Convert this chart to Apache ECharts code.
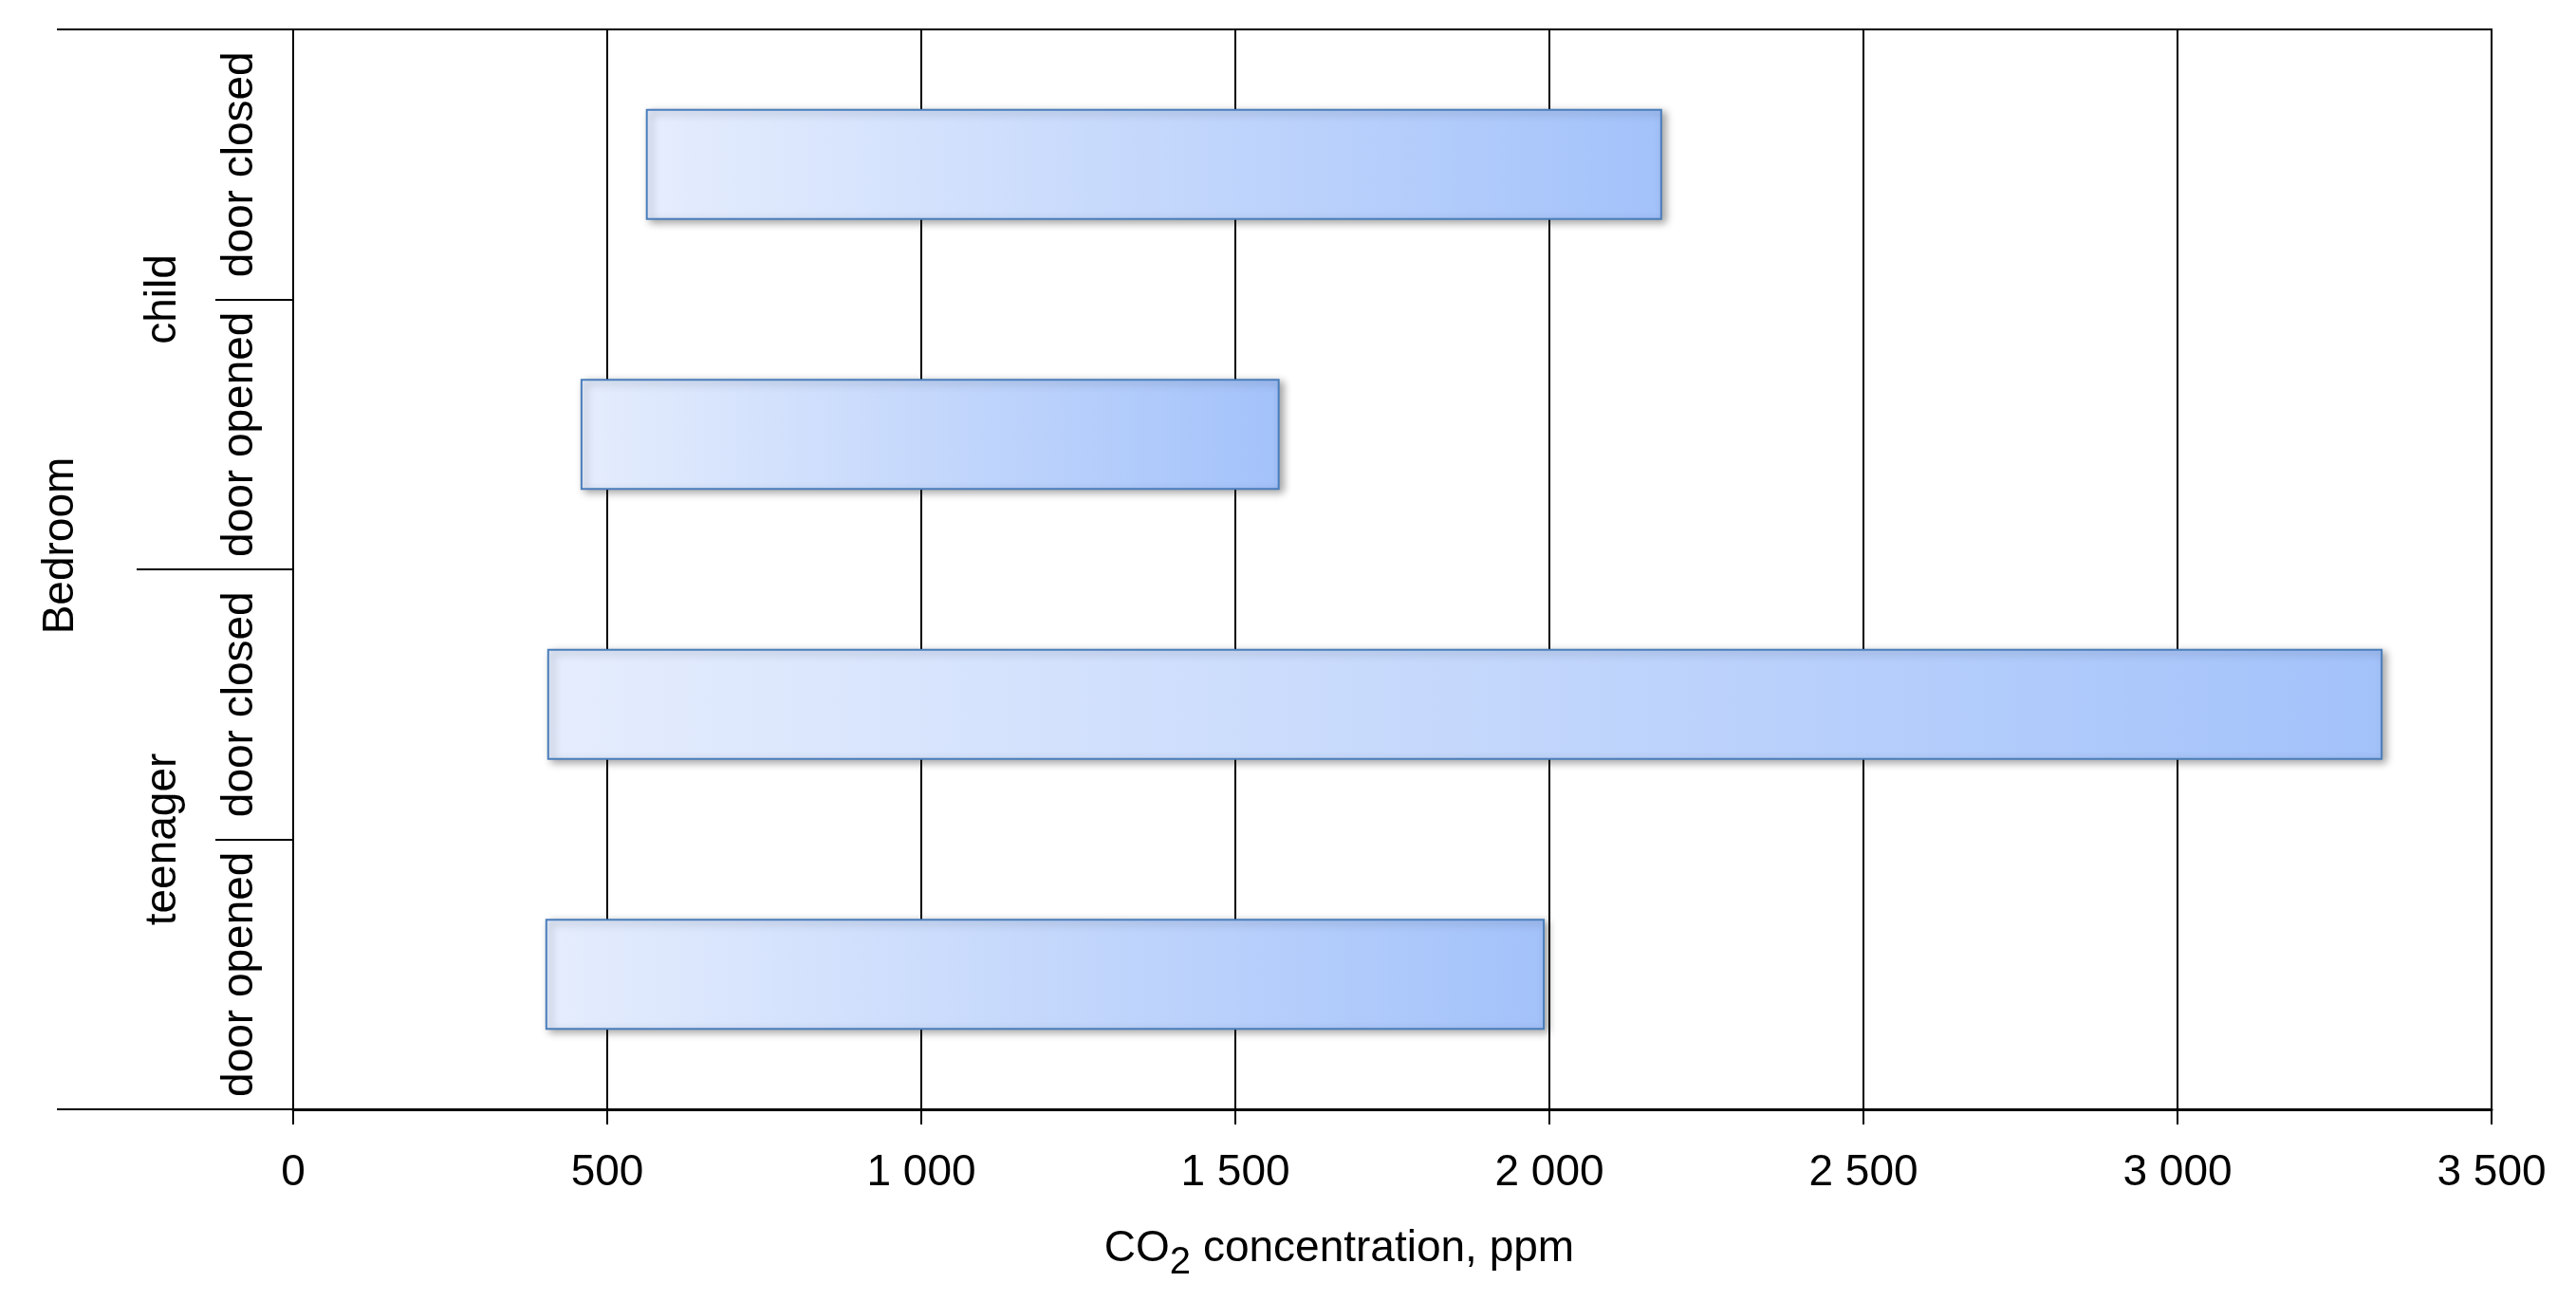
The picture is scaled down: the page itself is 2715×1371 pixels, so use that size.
<!DOCTYPE html>
<html>
<head>
<meta charset="utf-8">
<script src="https://cdn.jsdelivr.net/npm/echarts@6/dist/echarts.min.js"></script>
<style>
html,body{margin:0;padding:0;background:#fff;}
#chart{width:2715px;height:1371px;}
</style>
</head>
<body>
<div id="chart"></div>
<script>
// ---- data ----
const groups = ['teenager', 'child'];
const subCategories = ['door opened', 'door closed', 'door opened', 'door closed'];
const categoryGroup = ['teenager', 'teenager', 'child', 'child'];
const startValues = [403, 406, 459, 563];
const endValues = [1991, 3325, 1569, 2178];
const xTickValues = [0, 500, 1000, 1500, 2000, 2500, 3000, 3500];
const xTickLabels = ['0', '500', '1 000', '1 500', '2 000', '2 500', '3 000', '3 500'];
const outerLabel = ['Bedroom'];

const FONT = "'Liberation Sans', Arial, sans-serif";
const FS = 46;
const categoryKeys = subCategories.map((s, i) => categoryGroup[i] + '|' + s);
const seriesData = categoryKeys.map((k, i) => [k, startValues[i], endValues[i]]);

const chart = echarts.init(document.getElementById('chart'), null, {renderer: 'canvas'});
const lineStyle = {color: '#000', width: 2};

chart.setOption({
  animation: false,
  backgroundColor: '#fff',
  grid: {left: 309, right: 89, top: 31, bottom: 202, show: true, borderColor: '#000', borderWidth: 2, containLabel: false},
  xAxis: {
    type: 'value', min: 0, max: 3500, interval: 500,
    axisLine: {show: true, lineStyle: {color: '#000', width: 3}},
    axisTick: {show: true, length: 16, lineStyle: lineStyle},
    splitLine: {show: true, lineStyle: lineStyle},
    axisLabel: {
      fontFamily: FONT, fontSize: FS, color: '#000', margin: 44, lineHeight: 46,
      formatter: v => { const i = xTickValues.indexOf(v); return i >= 0 ? xTickLabels[i] : ''; }
    },
    name: '{a|CO}{b|2}{a| concentration, ppm}',
    nameLocation: 'middle', nameGap: 112,
    nameTextStyle: {
      padding: [0, 112, 0, 0],
      rich: {
        a: {fontFamily: FONT, fontSize: FS, color: '#000', lineHeight: 70, verticalAlign: 'middle'},
        b: {fontFamily: FONT, fontSize: 40, color: '#000', lineHeight: 40, verticalAlign: 'bottom'}
      }
    }
  },
  yAxis: [
    {
      type: 'category', data: categoryKeys, boundaryGap: true,
      axisLine: {show: true, lineStyle: lineStyle},
      axisTick: {show: true, interval: 0, length: 82, lineStyle: lineStyle},
      splitLine: {show: false},
      axisLabel: {
        interval: 0, hideOverlap: false,
        rotate: 90, fontFamily: FONT, fontSize: FS, color: '#000', margin: 33, lineHeight: 46,
        formatter: v => v.split('|')[1]
      }
    },
    {
      type: 'category', data: groups, boundaryGap: true, position: 'left',
      axisLine: {show: false},
      axisTick: {show: true, interval: 0, length: 165, lineStyle: lineStyle},
      splitLine: {show: false},
      axisLabel: {interval: 0, rotate: 90, fontFamily: FONT, fontSize: FS, color: '#000', margin: 114, lineHeight: 46}
    },
    {
      type: 'category', data: outerLabel, boundaryGap: true, position: 'left',
      axisLine: {show: false},
      axisTick: {show: true, interval: 0, length: 249, lineStyle: lineStyle},
      splitLine: {show: false},
      axisLabel: {interval: 0, rotate: 90, fontFamily: FONT, fontSize: FS, color: '#000', margin: 222, lineHeight: 46, padding: [0, 0, 0, 50]}
    }
  ],
  series: [{
    type: 'custom',
    xAxisIndex: 0, yAxisIndex: 0,
    encode: {x: [1, 2], y: 0},
    data: seriesData,
    renderItem: function (params, api) {
      const cat = api.value(0);
      const p0 = api.coord([api.value(1), cat]);
      const p1 = api.coord([api.value(2), cat]);
      const h = api.size([0, 1])[1] * 0.404;
      return {
        type: 'rect',
        shape: {x: p0[0], y: p0[1] - h / 2, width: p1[0] - p0[0], height: h},
        style: {
          fill: new echarts.graphic.LinearGradient(0, 0, 1, 0, [
            {offset: 0, color: '#e5edfd'},
            {offset: 1, color: '#a3c2fa'}
          ]),
          stroke: '#4a7ebb', lineWidth: 2,
          shadowBlur: 8, shadowColor: 'rgba(0,0,0,0.35)', shadowOffsetX: 4, shadowOffsetY: 3
        }
      };
    }
  }]
});
</script>
</body>
</html>
